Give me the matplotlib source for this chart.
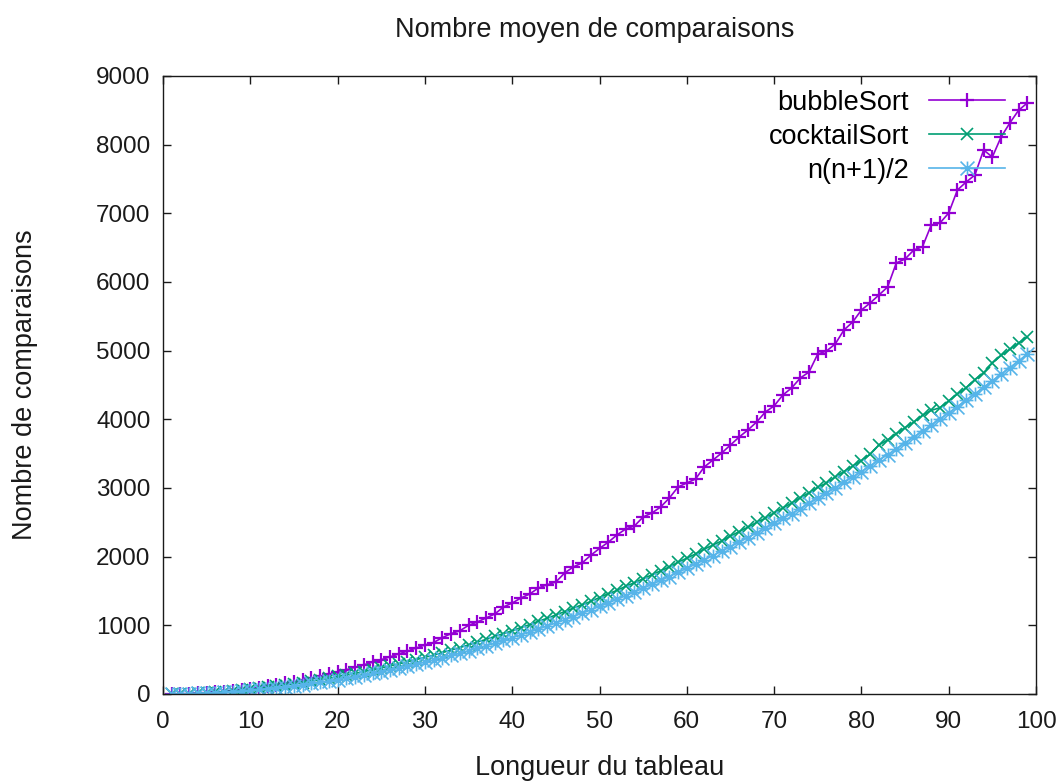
import matplotlib
matplotlib.use("Agg")
import matplotlib.pyplot as plt
from matplotlib.path import Path
import numpy as np

plt.rcParams["font.family"] = ["Liberation Sans", "DejaVu Sans"]

# array sizes n = 1..99
n = list(range(1, 100))

bubble = [
    0, 1, 4, 9, 16, 25, 36, 48, 62, 77,
    94, 112, 132, 154, 178, 203, 230, 259, 290, 322,
    354, 389, 425, 463, 500, 541, 583, 626, 670, 714,
    750, 820, 880, 920, 1000, 1049, 1107, 1165, 1267, 1325,
    1398, 1456, 1544, 1590, 1631, 1762, 1850, 1908, 2020, 2120,
    2210, 2316, 2403, 2447, 2578, 2636, 2723, 2854, 3015, 3073,
    3131, 3306, 3408, 3510, 3626, 3743, 3845, 3961, 4107, 4195,
    4354, 4456, 4602, 4689, 4951, 4995, 5097, 5301, 5417, 5592,
    5694, 5810, 5927, 6277, 6335, 6465, 6515, 6830, 6859, 7005,
    7340, 7456, 7558, 7922, 7820, 8112, 8315, 8500, 8607,
]

cocktail = [
    0, 1, 5, 11, 18, 26, 35, 46, 57, 70,
    84, 98, 114, 131, 148, 166, 186, 207, 228, 255,
    278, 300, 327, 352, 380, 409, 438, 470, 500, 535,
    566, 602, 640, 676, 715, 757, 794, 838, 880, 922,
    968, 1010, 1060, 1102, 1152, 1200, 1250, 1300, 1348, 1405,
    1460, 1508, 1570, 1620, 1680, 1735, 1795, 1850, 1920, 1978,
    2040, 2110, 2170, 2230, 2300, 2365, 2430, 2500, 2560, 2640,
    2710, 2780, 2860, 2930, 3010, 3073, 3160, 3240, 3320, 3400,
    3490, 3626, 3700, 3790, 3880, 3960, 4060, 4130, 4170, 4270,
    4370, 4460, 4580, 4680, 4820, 4930, 5020, 5110, 5199,
]

triangle = [
    1, 3, 6, 10, 15, 21, 28, 36, 45, 55,
    66, 78, 91, 105, 120, 136, 153, 171, 190, 210,
    231, 253, 276, 300, 325, 351, 378, 406, 435, 465,
    496, 528, 561, 595, 630, 666, 703, 741, 780, 820,
    861, 903, 946, 990, 1035, 1081, 1128, 1176, 1225, 1275,
    1326, 1378, 1431, 1485, 1540, 1596, 1653, 1711, 1770, 1830,
    1891, 1953, 2016, 2080, 2145, 2211, 2278, 2346, 2415, 2485,
    2556, 2628, 2701, 2775, 2850, 2926, 3003, 3081, 3160, 3240,
    3321, 3403, 3486, 3570, 3655, 3741, 3828, 3916, 4005, 4095,
    4186, 4278, 4371, 4465, 4560, 4656, 4753, 4851, 4950,
]

# gnuplot style asterisk: plus and cross overlaid
star = Path(
    [(-1, 0), (1, 0), (0, -1), (0, 1), (-1, -1), (1, 1), (-1, 1), (1, -1)],
    [Path.MOVETO, Path.LINETO] * 4,
)

fig = plt.figure(figsize=(10.64, 7.84), dpi=100)
ax = fig.add_axes([163 / 1064, 1 - 694 / 784, 873 / 1064, 618 / 784])

ax.plot(n, bubble, color="#9400D3", lw=1.2, marker="+", ms=10, mew=1.6,
        label="bubbleSort")
ax.plot(n, cocktail, color="#009E73", lw=1.2, marker="x", ms=8, mew=1.2,
        label="cocktailSort")
ax.plot(n, triangle, color="#56B4E9", lw=1.2, marker=star, ms=10, mew=1.2,
        mfc="none", label="n(n+1)/2")

ax.set_xlim(0, 100)
ax.set_ylim(0, 9000)
ax.set_xticks(range(0, 101, 10))
ax.set_yticks(range(0, 9001, 1000))
ax.tick_params(direction="in", length=6, width=1, top=True, right=True,
               labelsize=17.5, colors="#1a1a1a")
ax.tick_params(axis="x", pad=12)
ax.tick_params(axis="y", pad=9)
for s in ax.spines.values():
    s.set_linewidth(1.0)
    s.set_color("#1a1a1a")

ax.text(0.495, 1.075, "Nombre moyen de comparaisons", transform=ax.transAxes,
        ha="center", va="center", fontsize=19.5, color="#1a1a1a")
ax.set_xlabel("Longueur du tableau", fontsize=19.5, color="#1a1a1a", va="center")
ax.xaxis.set_label_coords(0.5, -0.12)
ax.set_ylabel("Nombre de comparaisons", fontsize=19.5, color="#1a1a1a", va="center")
ax.yaxis.set_label_coords(-0.158, 0.5)

ax.legend(loc="upper right", bbox_to_anchor=(0.9645, 0.978), frameon=False,
          markerfirst=False, fontsize=19.5, handlelength=2.8, handletextpad=0.75,
          labelspacing=0.3, borderpad=0, borderaxespad=0, numpoints=1)

fig.savefig("out.png", dpi=100)
